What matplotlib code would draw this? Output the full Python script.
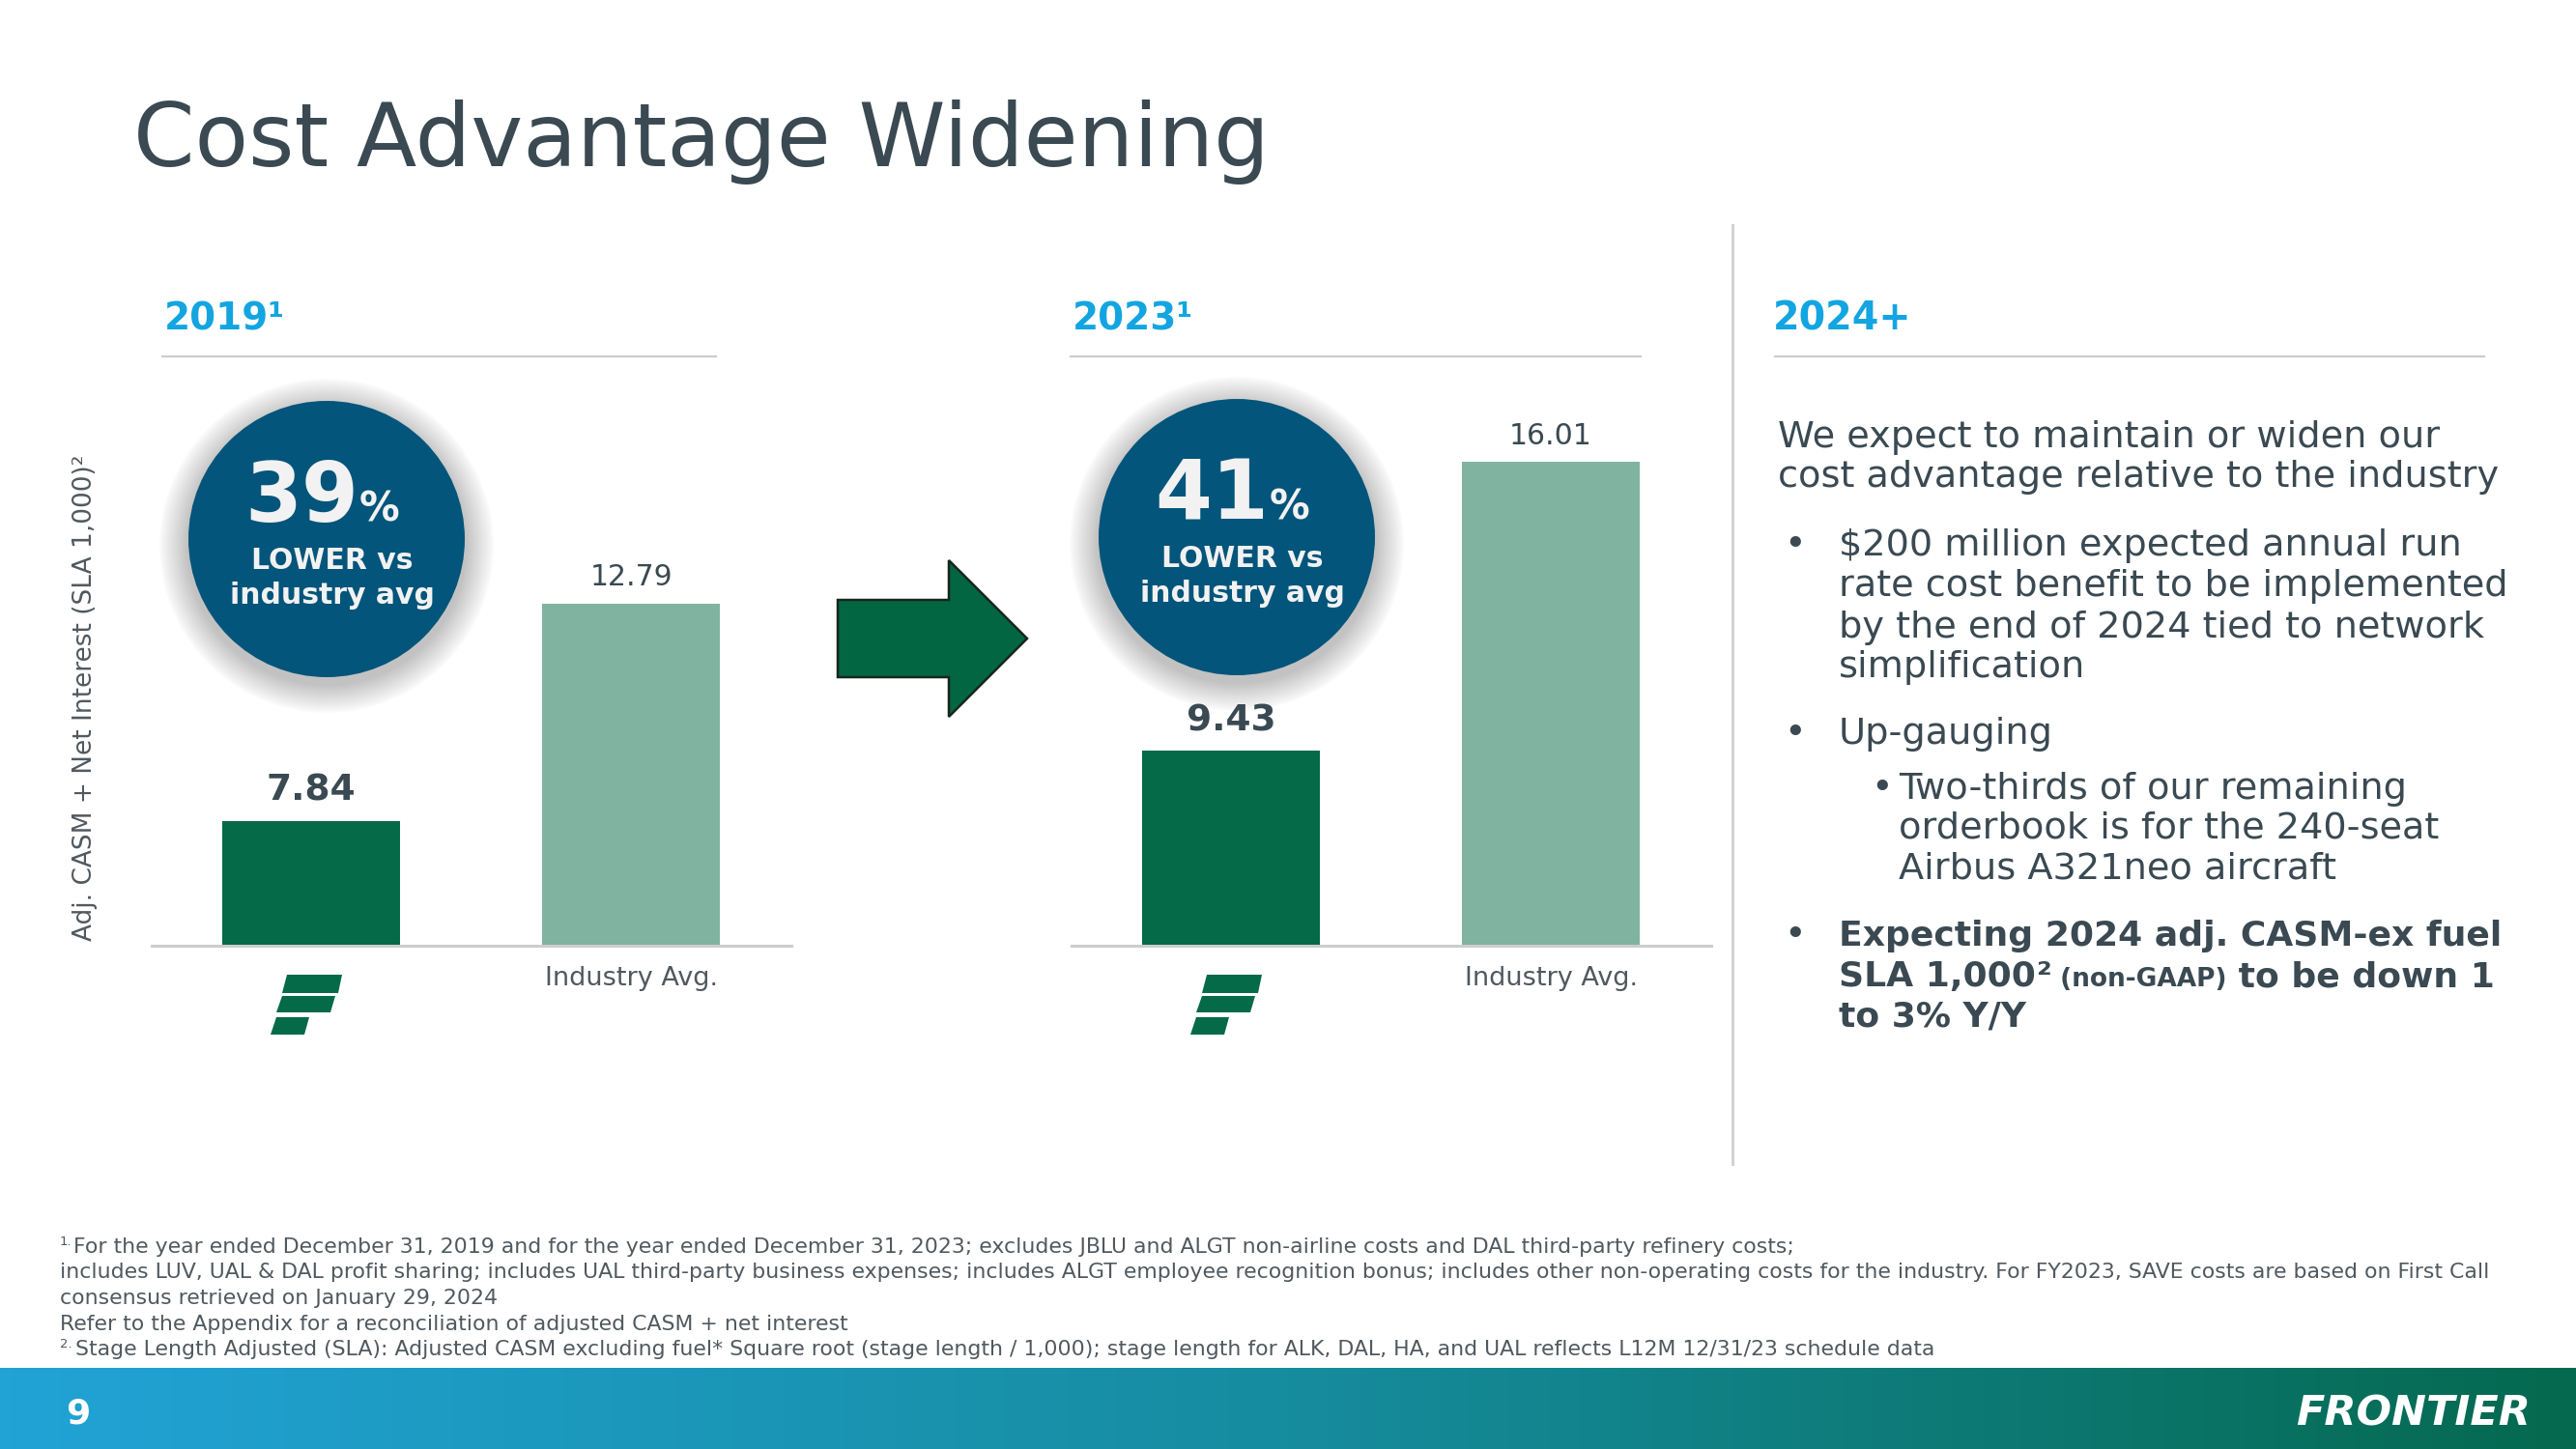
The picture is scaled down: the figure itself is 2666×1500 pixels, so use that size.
import matplotlib.pyplot as plt
import numpy as np
from matplotlib.patches import Circle, Polygon
from matplotlib.colors import LinearSegmentedColormap

# slide size in pixels (figure is drawn at dpi=100)
W, H = 2666, 1500

# data
categories = ["Frontier", "Industry Avg."]
years = ["2019", "2023"]
casm_2019 = [7.84, 12.79]
casm_2023 = [9.43, 16.01]
pct_lower = [39, 41]

DARK = "#3a4952"
GREYTXT = "#50595f"
CYAN = "#13a5e1"
GREEN = "#046a47"
SAGE = "#80b3a0"
NAVY = "#03557b"
RULE = "#cdcdcd"

plt.rcParams["font.family"] = "DejaVu Sans"

fig = plt.figure(figsize=(W / 100, H / 100), dpi=100)

# transparent canvas on top, in pixel units with y going down
bg = fig.add_axes([0, 0, 1, 1], zorder=5)
bg.axis("off")


def bar_panel(left_px, values):
    ax = fig.add_axes([left_px / W, (H - 979) / H, 662 / W, 546 / H])
    x = np.arange(len(categories))
    ax.bar(x, values, width=0.555, color=[GREEN, SAGE])
    ax.set_xlim(-0.5, 1.5)
    ax.set_ylim(5, 17)
    for s in ["top", "right", "left"]:
        ax.spines[s].set_visible(False)
    ax.spines["bottom"].set_color(RULE)
    ax.spines["bottom"].set_linewidth(2.2)
    ax.set_yticks([])
    ax.set_xticks(x, ["", categories[1]])
    ax.tick_params(axis="x", length=0, pad=15, labelsize=19.5, labelcolor=GREYTXT)
    ax.patch.set_visible(False)
    ax.annotate(f"{values[0]:.2f}", (0, values[0]), xytext=(0, 15), textcoords="offset points",
                ha="center", va="baseline", fontsize=27, fontweight="bold", color=DARK)
    ax.annotate(f"{values[1]:.2f}", (1, values[1]), xytext=(0, 13), textcoords="offset points",
                ha="center", va="baseline", fontsize=21.5, color=DARK)
    return ax


def badge(cx, cy, pct):
    # soft shadow
    n = 20
    for k in range(n):
        rr = 143 + 30 * (1 - k / n)
        bg.add_patch(Circle((cx, cy + 7), rr, color="#606060", alpha=0.018, lw=0))
    bg.add_patch(Circle((cx, cy), 143, color=NAVY, lw=0))
    bg.text(cx + 33, cy - 18, str(pct), ha="right", va="baseline", fontsize=61,
            fontweight="bold", color="#f2f2f2")
    bg.text(cx + 34, cy - 18, "%", ha="left", va="baseline", fontsize=30,
            fontweight="bold", color="#f2f2f2")
    bg.text(cx + 6, cy + 31, "LOWER vs", ha="center", va="baseline", fontsize=21.5,
            fontweight="bold", color="#f2f2f2")
    bg.text(cx + 6, cy + 67, "industry avg", ha="center", va="baseline", fontsize=21.5,
            fontweight="bold", color="#f2f2f2")


def logo(cx):
    stripes = [
        [(cx - 25, 1009), (cx + 32, 1009), (cx + 28, 1028), (cx - 30, 1028)],
        [(cx - 30, 1031), (cx + 25, 1031), (cx + 20, 1048), (cx - 36, 1048)],
        [(cx - 36, 1053), (cx - 2, 1053), (cx - 7, 1071), (cx - 42, 1071)],
    ]
    for pts in stripes:
        bg.add_patch(Polygon(pts, closed=True, color=GREEN, lw=0))


# two bar panels
ax1 = bar_panel(156.5, casm_2019)
ax2 = bar_panel(1108.5, casm_2023)

for ax, yr, pct, cx, cy, x0, x1 in [(ax1, years[0], pct_lower[0], 338, 558, 170, 741),
                                     (ax2, years[1], pct_lower[1], 1280, 556, 1110, 1698)]:
    bg.text(x0, 341, yr + "¹", fontsize=28, fontweight="bold", color=CYAN, va="baseline")
    bg.plot([x0 - 2, x1], [369, 369], color=RULE, lw=1.6)
    badge(cx, cy, pct)
    logo(ax.transData.transform((0, 5))[0])

# arrow between the panels
bg.add_patch(Polygon([(867, 621), (982, 621), (982, 580), (1063, 661), (982, 742), (982, 701), (867, 701)],
                     closed=True, fc="#036642", ec="#17261f", lw=1.8))

# title and y label
bg.text(138, 172, "Cost Advantage Widening", fontsize=65.5, color=DARK, va="baseline")
bg.text(88, 722, "Adj. CASM + Net Interest (SLA 1,000)²", rotation=90, ha="center", va="center",
        fontsize=19, color=GREYTXT)

# right column
bg.plot([1793, 1793], [233, 1205], color="#d3d3d3", lw=2.2)
bg.text(1835, 342, "2024+", fontsize=28.5, fontweight="bold", color=CYAN, va="baseline")
bg.plot([1837, 2571], [369, 369], color=RULE, lw=1.6)

body = [
    (1840, 463, "We expect to maintain or widen our"),
    (1840, 504, "cost advantage relative to the industry"),
    (1846, 575, "•"), (1903, 575, "$200 million expected annual run"),
    (1903, 617, "rate cost benefit to be implemented"),
    (1903, 660, "by the end of 2024 tied to network"),
    (1903, 701, "simplification"),
    (1846, 770, "•"), (1903, 770, "Up-gauging"),
    (1936, 827, "•"), (1965, 827, "Two-thirds of our remaining"),
    (1965, 868, "orderbook is for the 240-seat"),
    (1965, 910, "Airbus A321neo aircraft"),
    (1846, 979, "•"),
]
for x, y, s in body:
    bg.text(x, y, s, fontsize=27.5, color=DARK, va="baseline")

bg.text(1903, 979, "Expecting 2024 adj. CASM-ex fuel", fontsize=26, fontweight="bold",
        color=DARK, va="baseline")
bg.text(1903, 1063, "to 3% Y/Y", fontsize=26, fontweight="bold", color=DARK, va="baseline")

renderer = fig.canvas.get_renderer()
x = 1903
for s, size in [("SLA 1,000", 26), ("²", 26), (" (non-GAAP)", 19), (" to be down 1", 26)]:
    t = bg.text(x, 1021, s, fontsize=size, fontweight="bold", color=DARK, va="baseline")
    x += t.get_window_extent(renderer).width

# footnotes
notes = [
    (76, 1297, "For the year ended December 31, 2019 and for the year ended December 31, 2023; "
               "excludes JBLU and ALGT non-airline costs and DAL third-party refinery costs;"),
    (62, 1323, "includes LUV, UAL & DAL profit sharing; includes UAL third-party business expenses; "
               "includes ALGT employee recognition bonus; includes other non-operating costs for the industry. "
               "For FY2023, SAVE costs are based on First Call"),
    (62, 1350, "consensus retrieved on January 29, 2024"),
    (62, 1377, "Refer to the Appendix for a reconciliation of adjusted CASM + net interest"),
    (78, 1403, "Stage Length Adjusted (SLA): Adjusted CASM excluding fuel* Square root (stage length / 1,000); "
               "stage length for ALK, DAL, HA, and UAL reflects L12M 12/31/23 schedule data"),
]
for x, y, s in notes:
    bg.text(x, y, s, fontsize=15.8, color=GREYTXT, va="baseline")
bg.text(62, 1289, "1.", fontsize=9.5, color=GREYTXT, va="baseline")
bg.text(62, 1395, "2.", fontsize=9.5, color=GREYTXT, va="baseline")

# footer band
band = LinearSegmentedColormap.from_list("band", ["#21a3d6", "#168c9f", "#05694f"])
bg.imshow(np.linspace(0, 1, 256).reshape(1, -1), extent=[0, W, H, 1416], aspect="auto",
          cmap=band, zorder=0)
bg.text(68, 1473, "9", fontsize=26, fontweight="bold", color="white", va="baseline")
bg.text(2376, 1476, "FRONTIER", fontsize=31, fontweight="bold", style="italic",
        color="white", va="baseline")

bg.set_xlim(0, W)
bg.set_ylim(H, 0)

fig.savefig("out.png", dpi=100)
